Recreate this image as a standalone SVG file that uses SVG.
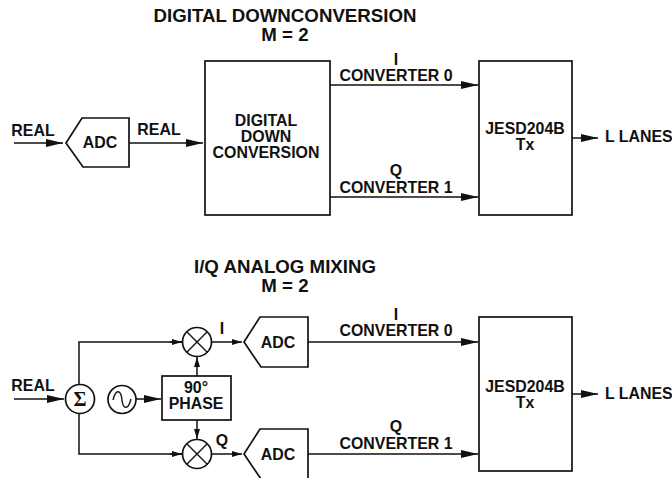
<svg xmlns="http://www.w3.org/2000/svg" width="672" height="478" viewBox="0 0 672 478">
<style>
text{font-family:"Liberation Sans",Arial,sans-serif;font-weight:bold;font-size:15.9px;fill:#111;text-anchor:middle}
.t{font-size:18.7px}
.s{fill:#fff;stroke:#111;stroke-width:1.7}
.n{fill:none;stroke:#111;stroke-width:1.4}
.c{fill:none;stroke:#111;stroke-width:1.5;marker-end:url(#a)}
.l{fill:none;stroke:#111;stroke-width:1.5;marker-end:url(#b)}
.p{fill:none;stroke:#111;stroke-width:1.5}
</style>
<defs>
<marker id="a" markerUnits="userSpaceOnUse" markerWidth="18" markerHeight="10" refX="17" refY="5" orient="auto"><path d="M0 1L17 5L0 9Z" fill="#111"/></marker>
<marker id="b" markerUnits="userSpaceOnUse" markerWidth="11" markerHeight="8" refX="10" refY="4" orient="auto"><path d="M0 1L10 4L0 7Z" fill="#111"/></marker>
</defs>
<g id="titles">
<text class="t" x="285" y="22">DIGITAL DOWNCONVERSION</text><text class="t" x="285" y="41">M = 2</text>
<text class="t" x="285" y="273">I/Q ANALOG MIXING</text><text class="t" x="285" y="292">M = 2</text>
</g>
<g id="connectors">
<path class="c" d="M14 143H63"/>
<path class="c" d="M129 143H203"/>
<path class="c" d="M330 85H478"/>
<path class="c" d="M330 197H478"/>
<path class="c" d="M572 138H598"/>
<path class="c" d="M14 399H64"/>
<path class="p" d="M79 385V342H182"/>
<path class="l" d="M170 342H182"/>
<path class="p" d="M79 413V454H182"/>
<path class="l" d="M170 454H182"/>
<path class="c" d="M136 399H161"/>
<path class="l" d="M197 376V357"/>
<path class="l" d="M197 420V439"/>
<path class="l" d="M212 342H242"/>
<path class="l" d="M212 454H242"/>
<path class="c" d="M308 342H478"/>
<path class="c" d="M308 454H478"/>
<path class="c" d="M572 394H598"/>
</g>
<g id="adc-top"><path class="s" d="M66 143L82 118H129V167H83Z"/><text x="100" y="148">ADC</text></g>
<g id="ddc"><rect class="s" x="205" y="61" width="125" height="154"/><text x="266" y="126">DIGITAL</text><text x="266" y="142">DOWN</text><text x="266" y="158">CONVERSION</text></g>
<g id="jesd-top"><rect class="s" x="479" y="61" width="93" height="154"/><text x="525" y="134">JESD204B</text><text x="525" y="150">Tx</text></g>
<g id="adc-i"><path class="s" d="M244 342L260 317H308V367H261Z"/><text x="278" y="348">ADC</text></g>
<g id="adc-q"><path class="s" d="M261 479L244 454L260 429H308V479"/><text x="278" y="460">ADC</text></g>
<g id="jesd-bottom"><rect class="s" x="479" y="317" width="93" height="154"/><text x="525" y="392">JESD204B</text><text x="525" y="408">Tx</text></g>
<g id="sum"><circle class="s" cx="80" cy="399" r="14.5"/><text x="80" y="406" style="font-size:20px;font-family:'Liberation Serif',serif">Σ</text></g>
<g id="osc"><circle class="s" cx="122" cy="399.500" r="14"/><path class="n" d="M113 400C116 388 121 390 122 400C123 409 128 411 131 399"/></g>
<g id="phase"><rect class="s" x="162" y="376" width="69" height="44"/><text x="196" y="393">90°</text><text x="196" y="409">PHASE</text></g>
<g id="mix-i"><circle class="s" cx="197" cy="342" r="14.500"/><path class="n" d="M187 332L207 352M207 332L187 352"/></g>
<g id="mix-q"><circle class="s" cx="197" cy="454" r="14.500"/><path class="n" d="M187 444L207 464M207 444L187 464"/></g>
<g id="labels">
<text x="33" y="136">REAL</text><text x="159" y="135">REAL</text>
<text x="396" y="65">I</text><text x="396" y="81">CONVERTER 0</text>
<text x="396" y="176">Q</text><text x="396" y="193">CONVERTER 1</text>
<text x="605" y="142" style="text-anchor:start">L LANES</text>
<text x="33" y="391">REAL</text><text x="222" y="334">I</text><text x="222" y="446">Q</text>
<text x="396" y="320">I</text><text x="396" y="336">CONVERTER 0</text>
<text x="396" y="432">Q</text><text x="396" y="449">CONVERTER 1</text>
<text x="605" y="399" style="text-anchor:start">L LANES</text>
</g>
</svg>
